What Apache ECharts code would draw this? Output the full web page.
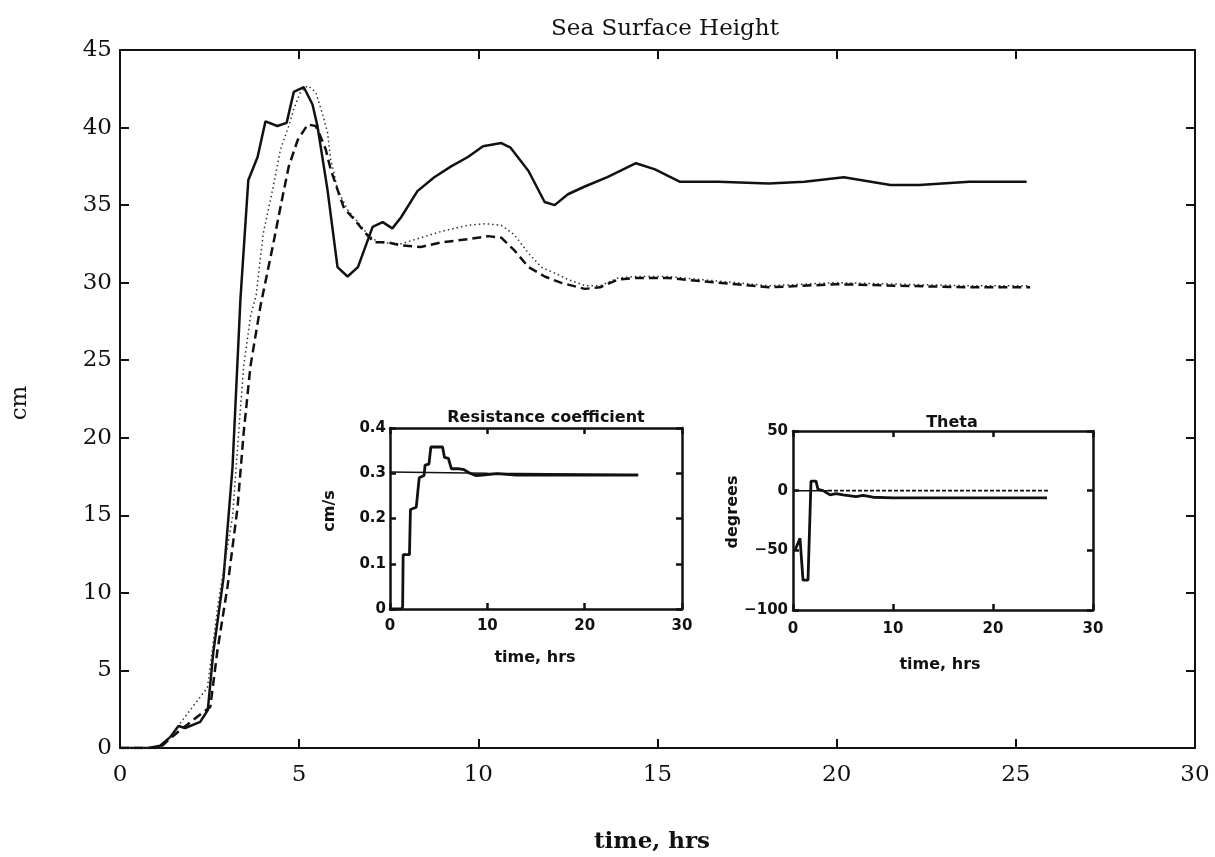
<!DOCTYPE html>
<html><head><meta charset="utf-8">
<script src="https://cdn.jsdelivr.net/npm/echarts@6/dist/echarts.min.js"></script>
<style>html,body{margin:0;background:#fff}#c{width:1215px;height:857px}</style>
</head><body><div id="c"></div>
<script>
// ---- Main chart: Sea Surface Height (cm) vs time (hrs)
const solidT = [0,0.8,1.12,1.4,1.63,1.82,2.24,2.45,2.6,2.89,3.14,3.36,3.58,3.84,4.06,4.39,4.65,4.85,5.13,5.37,5.51,5.79,6.07,6.35,6.64,7.05,7.33,7.6,7.84,8.3,8.77,9.24,9.71,10.13,10.64,10.9,11.4,11.85,12.13,12.5,12.97,13.6,14.4,14.93,15.63,16.7,18.1,19.1,20.2,21.5,22.3,23.7,24.3,25.3];
const solidH = [0,0,0.15,0.7,1.42,1.29,1.68,2.45,6.1,11.0,18.1,28.9,36.6,38.1,40.4,40.1,40.3,42.3,42.6,41.5,40.1,36.0,31.0,30.4,31.0,33.6,33.9,33.5,34.2,35.9,36.8,37.5,38.1,38.8,39.0,38.7,37.2,35.2,35.0,35.7,36.2,36.8,37.7,37.3,36.5,36.5,36.4,36.5,36.8,36.3,36.3,36.5,36.5,36.5];

const dottedT = [0,1.1,1.2,1.68,2.44,2.75,3.14,3.31,3.45,3.64,3.8,4.0,4.26,4.48,4.71,4.85,5.04,5.24,5.46,5.66,5.79,5.88,5.97,6.07,6.35,6.64,6.92,7.2,7.84,8.4,8.96,9.71,10.2,10.64,11.0,11.4,11.76,12.24,12.5,13.0,13.4,13.9,14.4,15.3,16.2,17.2,18.1,19.05,20.0,21.8,23.7,25.4];
const dottedH = [0,0,0.1,1.6,3.9,9.5,14.9,20.3,24.6,27.8,29.2,33.2,36.0,38.6,40.1,41.2,42.3,42.7,42.3,40.8,39.7,37.9,37.1,36.0,34.7,33.9,33.1,32.6,32.5,32.9,33.3,33.7,33.8,33.7,33.1,31.9,31.0,30.5,30.2,29.8,29.8,30.3,30.4,30.4,30.2,30.0,29.8,29.9,30.0,29.9,29.8,29.8];

const dashedT = [0,1.1,1.68,2.52,2.72,3.0,3.28,3.45,3.64,3.92,4.26,4.48,4.71,4.96,5.24,5.46,5.6,5.74,5.88,6.07,6.25,6.53,6.81,7.09,7.48,7.84,8.4,8.96,9.71,10.27,10.64,11.0,11.4,11.85,12.3,12.97,13.4,13.9,14.4,15.3,16.2,17.2,18.1,19.05,20.0,21.8,23.7,25.4];
const dashedH = [0,0,1.16,2.65,6.3,10.4,15.5,20.3,24.6,28.5,32.3,34.9,37.5,39.2,40.2,40.1,39.4,38.6,37.3,36.0,34.8,34.1,33.3,32.6,32.6,32.4,32.3,32.6,32.8,33.0,32.9,32.1,31.0,30.4,30.0,29.6,29.7,30.2,30.3,30.3,30.1,29.9,29.7,29.8,29.9,29.8,29.7,29.7];

// ---- Inset 1: Resistance coefficient (cm/s)
const rcStepT = [0,1.2,1.3,1.35,2.0,2.1,2.7,3.0,3.5,3.6,4.0,4.2,5.4,5.6,6.0,6.3,7.0,7.6,8.2,8.8,9.5,11,13,20,25.5];
const rcStepV = [0,0,0.005,0.12,0.12,0.22,0.225,0.29,0.295,0.318,0.32,0.358,0.358,0.335,0.333,0.31,0.31,0.308,0.3,0.295,0.296,0.299,0.296,0.296,0.296];
const rcRefT = [0,10,25.5];
const rcRefV = [0.303,0.3,0.297];

// ---- Inset 2: Theta (degrees)
const thT = [0.2,0.7,0.85,1.0,1.5,1.8,2.3,2.5,3.0,3.7,4.3,5.0,6.3,7.0,8.0,10,25.4];
const thV = [-50,-40,-40,-75,-75,8,8,1,0,-3.5,-2.5,-3.5,-5,-4,-5.5,-6,-6];
const thZeroSolidT = [0,3.5];
const thZeroSolidV = [0,0];
const thZeroDashT = [3.5,25.5];
const thZeroDashV = [0,0];

// tick values
const mainXTicks = {min:0,max:30,interval:5};
const mainYTicks = {min:0,max:45,interval:5};
const rcXTicks = {min:0,max:30,interval:10};
const rcYTicks = {min:0,max:0.4,interval:0.1};
const thXTicks = {min:0,max:30,interval:10};
const thYTicks = {min:-100,max:50,interval:50};

const zip = (a,b) => a.map((v,i)=>[v,b[i]]);
const INK = '#111';
const serif = 'DejaVu Serif';
const sans = 'DejaVu Sans';

function axis(t, grid, pos, opts){
  return {
    type:'value', gridIndex:grid, position:pos, min:t.min, max:t.max, interval:t.interval,
    axisLine:{show:true, onZero:false, lineStyle:{color:INK, width:opts.lw}},
    axisTick:{show:true, inside:true, length:opts.tl, lineStyle:{color:INK, width:opts.lw}},
    splitLine:{show:false},
    axisLabel:{show:!!opts.label, color:INK, fontFamily:opts.ff, fontSize:opts.fs, fontWeight:opts.fw||'normal', margin:opts.margin||8, formatter:opts.fmt}
  };
}
const M = {lw:2, tl:9, ff:serif, fs:23};
const I = {lw:2.5, tl:6, ff:sans, fs:15, fw:'bold'};

const option = {
  animation:false,
  backgroundColor:'#fff',
  grid:[
    {left:120, top:50, width:1075, height:698},
    {left:390, top:428, width:292, height:181},
    {left:793, top:431, width:300, height:179}
  ],
  xAxis:[
    axis(mainXTicks,0,'bottom',Object.assign({},M,{label:true,margin:16})),
    axis(mainXTicks,0,'top',M),
    axis(rcXTicks,1,'bottom',Object.assign({},I,{label:true,margin:10})),
    axis(rcXTicks,1,'top',I),
    axis(thXTicks,2,'bottom',Object.assign({},I,{label:true,margin:12})),
    axis(thXTicks,2,'top',I)
  ],
  yAxis:[
    axis(mainYTicks,0,'left',Object.assign({},M,{label:true,margin:8})),
    axis(mainYTicks,0,'right',M),
    axis(rcYTicks,1,'left',Object.assign({},I,{label:true,margin:4,fmt:v=>(v===0?'0':String(Math.round(v*10)/10))})),
    axis(rcYTicks,1,'right',I),
    axis(thYTicks,2,'left',Object.assign({},I,{label:true,margin:5,fmt:v=>String(v).replace('-','\u2212')})),
    axis(thYTicks,2,'right',I)
  ],
  title:[
    {text:'Sea Surface Height', left:660, top:13, textAlign:'center', textStyle:{fontFamily:serif, fontSize:23, fontWeight:'normal', color:INK}},
    {text:'Resistance coefficient', left:541, top:405, textAlign:'center', textStyle:{fontFamily:sans, fontSize:16, fontWeight:'bold', color:INK}},
    {text:'Theta', left:947, top:410, textAlign:'center', textStyle:{fontFamily:sans, fontSize:16, fontWeight:'bold', color:INK}}
  ],
  graphic:[
    {type:'text', x:20, y:403, rotation:Math.PI/2, style:{text:'cm', fontFamily:serif, fontSize:23, fill:INK, textAlign:'center', textVerticalAlign:'middle'}},
    {type:'text', x:652, y:842, style:{text:'time, hrs', fontFamily:serif, fontSize:23, fontWeight:'bold', fill:INK, textAlign:'center', textVerticalAlign:'middle'}},
    {type:'text', x:330, y:511, rotation:Math.PI/2, style:{text:'cm/s', fontFamily:sans, fontSize:16, fontWeight:'bold', fill:INK, textAlign:'center', textVerticalAlign:'middle'}},
    {type:'text', x:535, y:658, style:{text:'time, hrs', fontFamily:sans, fontSize:16, fontWeight:'bold', fill:INK, textAlign:'center', textVerticalAlign:'middle'}},
    {type:'text', x:733, y:512, rotation:Math.PI/2, style:{text:'degrees', fontFamily:sans, fontSize:16, fontWeight:'bold', fill:INK, textAlign:'center', textVerticalAlign:'middle'}},
    {type:'text', x:940, y:665, style:{text:'time, hrs', fontFamily:sans, fontSize:16, fontWeight:'bold', fill:INK, textAlign:'center', textVerticalAlign:'middle'}}
  ],
  series:[
    {type:'line', xAxisIndex:0, yAxisIndex:0, data:zip(solidT,solidH), symbol:'none', lineStyle:{color:INK, width:2.5}},
    {type:'line', xAxisIndex:0, yAxisIndex:0, data:zip(dottedT,dottedH), symbol:'none', lineStyle:{color:'#333', width:1.5, type:[1.5,3]}},
    {type:'line', xAxisIndex:0, yAxisIndex:0, data:zip(dashedT,dashedH), symbol:'none', lineStyle:{color:INK, width:2.5, type:[9,5]}},
    {type:'line', xAxisIndex:2, yAxisIndex:2, data:zip(rcRefT,rcRefV), symbol:'none', lineStyle:{color:INK, width:1.5}},
    {type:'line', xAxisIndex:2, yAxisIndex:2, data:zip(rcStepT,rcStepV), symbol:'none', lineStyle:{color:INK, width:2.8}},
    {type:'line', xAxisIndex:4, yAxisIndex:4, data:zip(thZeroSolidT,thZeroSolidV), symbol:'none', lineStyle:{color:INK, width:1.5}},
    {type:'line', xAxisIndex:4, yAxisIndex:4, data:zip(thZeroDashT,thZeroDashV), symbol:'none', lineStyle:{color:INK, width:1.8, type:[4,2]}},
    {type:'line', xAxisIndex:4, yAxisIndex:4, data:zip(thT,thV), symbol:'none', lineStyle:{color:INK, width:2.8}}
  ]
};
const chart = echarts.init(document.getElementById('c'));
chart.setOption(option);
</script>
</body></html>
